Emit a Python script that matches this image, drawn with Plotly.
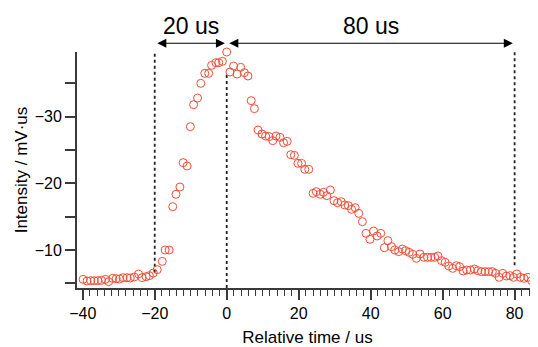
import plotly.graph_objects as go

# ---- data (time in us, intensity in mV·us) ----
time_us = [
    -39.9, -38.8, -37.8, -36.8, -35.8, -34.8, -33.7, -32.8, -31.7, -30.7,
    -29.8, -28.8, -27.7, -26.8, -25.7, -24.5, -23.5, -22.4, -21.5, -20.4,
    -19.3, -17.9, -17.1, -16.0, -15.0, -14.1, -13.0, -12.1, -11.0, -10.1,
    -9.2, -8.1, -7.2, -6.1, -5.0, -4.2, -3.0, -2.2, -1.2, 0.0,
    0.9, 1.9, 2.9, 3.9, 4.9, 5.9, 6.8, 7.7, 8.7, 9.8,
    10.8, 11.8, 12.8, 13.7, 14.8, 15.8, 16.8, 17.8, 18.8, 19.8,
    20.8, 21.7, 22.8,
    24.0, 24.9, 26.0, 26.9, 27.8, 28.8, 29.8, 30.8, 31.8, 32.8,
    33.8, 34.7, 35.7, 36.7, 37.7, 38.7, 39.8, 40.8, 41.8, 42.8,
    43.8, 44.8,
    45.8, 46.7, 47.8, 48.8, 49.7, 50.7, 51.7, 52.7, 53.7, 54.8,
    55.8, 56.8, 57.8, 58.7, 59.7, 60.7, 61.7, 62.8, 63.8, 64.7,
    65.7, 66.7, 67.7, 68.8, 69.8, 70.8, 71.8, 72.8, 73.8, 74.7,
    75.7, 76.7, 77.7, 78.7, 79.7, 80.6, 81.6, 82.6, 83.7, 84.7,
    85.7,
]
intensity = [
    -5.6, -5.35, -5.4, -5.4, -5.4, -5.45, -5.6, -5.25, -5.75, -5.7,
    -5.65, -5.85, -5.85, -5.8, -5.95, -6.4, -5.85, -6.0, -6.15, -6.55,
    -7.05, -8.3, -10.0, -10.0, -16.5, -18.35, -19.45, -23.1, -22.6, -28.5,
    -31.8, -32.8, -35.0, -36.5, -36.5, -37.7, -38.1, -38.1, -38.3, -39.7,
    -36.7, -37.6, -36.4, -37.4, -36.6, -36.1, -32.4, -31.2, -28.0, -27.4,
    -27.1, -27.0, -26.4, -27.1, -26.9, -26.1, -26.3, -24.3, -24.2, -23.0,
    -23.0, -22.1, -22.1,
    -18.5, -18.75, -18.35, -18.65, -18.15, -19.0, -17.4, -17.1, -17.25, -16.75,
    -16.65, -16.1, -16.35, -15.5, -14.25, -12.5, -11.6, -12.85, -12.1, -12.5,
    -10.35, -11.4,
    -10.5, -10.0, -9.75, -10.15, -9.9, -9.65, -9.35, -8.75, -9.4, -8.9,
    -8.9, -8.9, -8.9, -9.1, -8.4, -8.15, -7.6, -7.25, -7.65, -7.5,
    -6.85, -7.0, -7.0, -7.15, -6.9, -6.75, -6.75, -6.75, -6.75, -6.5,
    -5.9, -6.5, -6.1, -6.15, -5.9, -6.4, -5.9, -5.75, -5.9, -5.4,
    -5.9,
]

# reference markers: time, lower end, upper end of the dashed line
marker_times = [-20, 0, 80]
marker_low = [-6.6, -4.3, -7.7]
marker_high = [-39.7, -36.3, -39.7]

# intervals annotated with double arrows
intervals = [(-20, 0, "20 us"), (0, 80, "80 us")]

x_range = [-41.6, 86.5]
y_range = [-4.3, -39.7]

FONT = "Liberation Sans, Arial, sans-serif"
AXC = "#3a3a3a"
RED = "rgb(240,78,55)"

fig = go.Figure()
fig.add_trace(go.Scatter(
    x=time_us, y=intensity, mode="markers",
    marker=dict(symbol="circle-open", size=8, color=RED, line=dict(width=1, color=RED)),
    cliponaxis=False, showlegend=False,
))

for t, lo, hi in zip(marker_times, marker_low, marker_high):
    fig.add_shape(type="line", x0=t, x1=t, y0=lo, y1=hi, xref="x", yref="y",
                  line=dict(color="#222222", width=1.8, dash="3px,3px"), layer="below")

arrow_y = 1.037
for a, b, label in intervals:
    gap = 0.3
    fig.add_annotation(x=b - gap - 0.2, y=arrow_y, ax=a + gap, ay=0,
                       xref="x", yref="paper", axref="x", ayref="pixel",
                       showarrow=True, arrowhead=2, arrowside="end+start",
                       arrowsize=1.5, arrowwidth=1.2, arrowcolor="black",
                       standoff=0, startstandoff=0, text="")
    fig.add_annotation(x=(a + b) / 2, y=1.11, xref="x", yref="paper",
                       text=label, showarrow=False, yanchor="middle",
                       font=dict(size=23, color="black", family=FONT))

# the page places the figure 8px from the top-left corner
fig.update_layout(
    width=530, height=339,
    margin=dict(l=69, r=0, t=44, b=59, autoexpand=False),
    paper_bgcolor="white", plot_bgcolor="white",
    font=dict(family=FONT, size=16, color="black"),
)
fig.update_xaxes(
    range=x_range, showgrid=False, zeroline=False, automargin=False,
    showline=True, linecolor=AXC, linewidth=2,
    ticks="outside", ticklen=10, tickwidth=1.5, tickcolor=AXC,
    dtick=20, tick0=0,
    minor=dict(dtick=2, ticks="outside", ticklen=6, tickwidth=1.2, tickcolor=AXC),
    tickfont=dict(size=16),
    title=dict(text="Relative time / us", font=dict(size=17), standoff=13),
)
fig.update_yaxes(
    range=y_range, showgrid=False, zeroline=False, automargin=False,
    showline=True, linecolor=AXC, linewidth=2,
    ticks="outside", ticklen=10, tickwidth=1.5, tickcolor=AXC,
    dtick=10, tick0=0,
    minor=dict(dtick=5, ticks="outside", ticklen=10, tickwidth=1.5, tickcolor=AXC),
    tickfont=dict(size=16),
    title=dict(text="Intensity / mV·us", font=dict(size=17), standoff=3),
)

fig.write_html("out.html")
